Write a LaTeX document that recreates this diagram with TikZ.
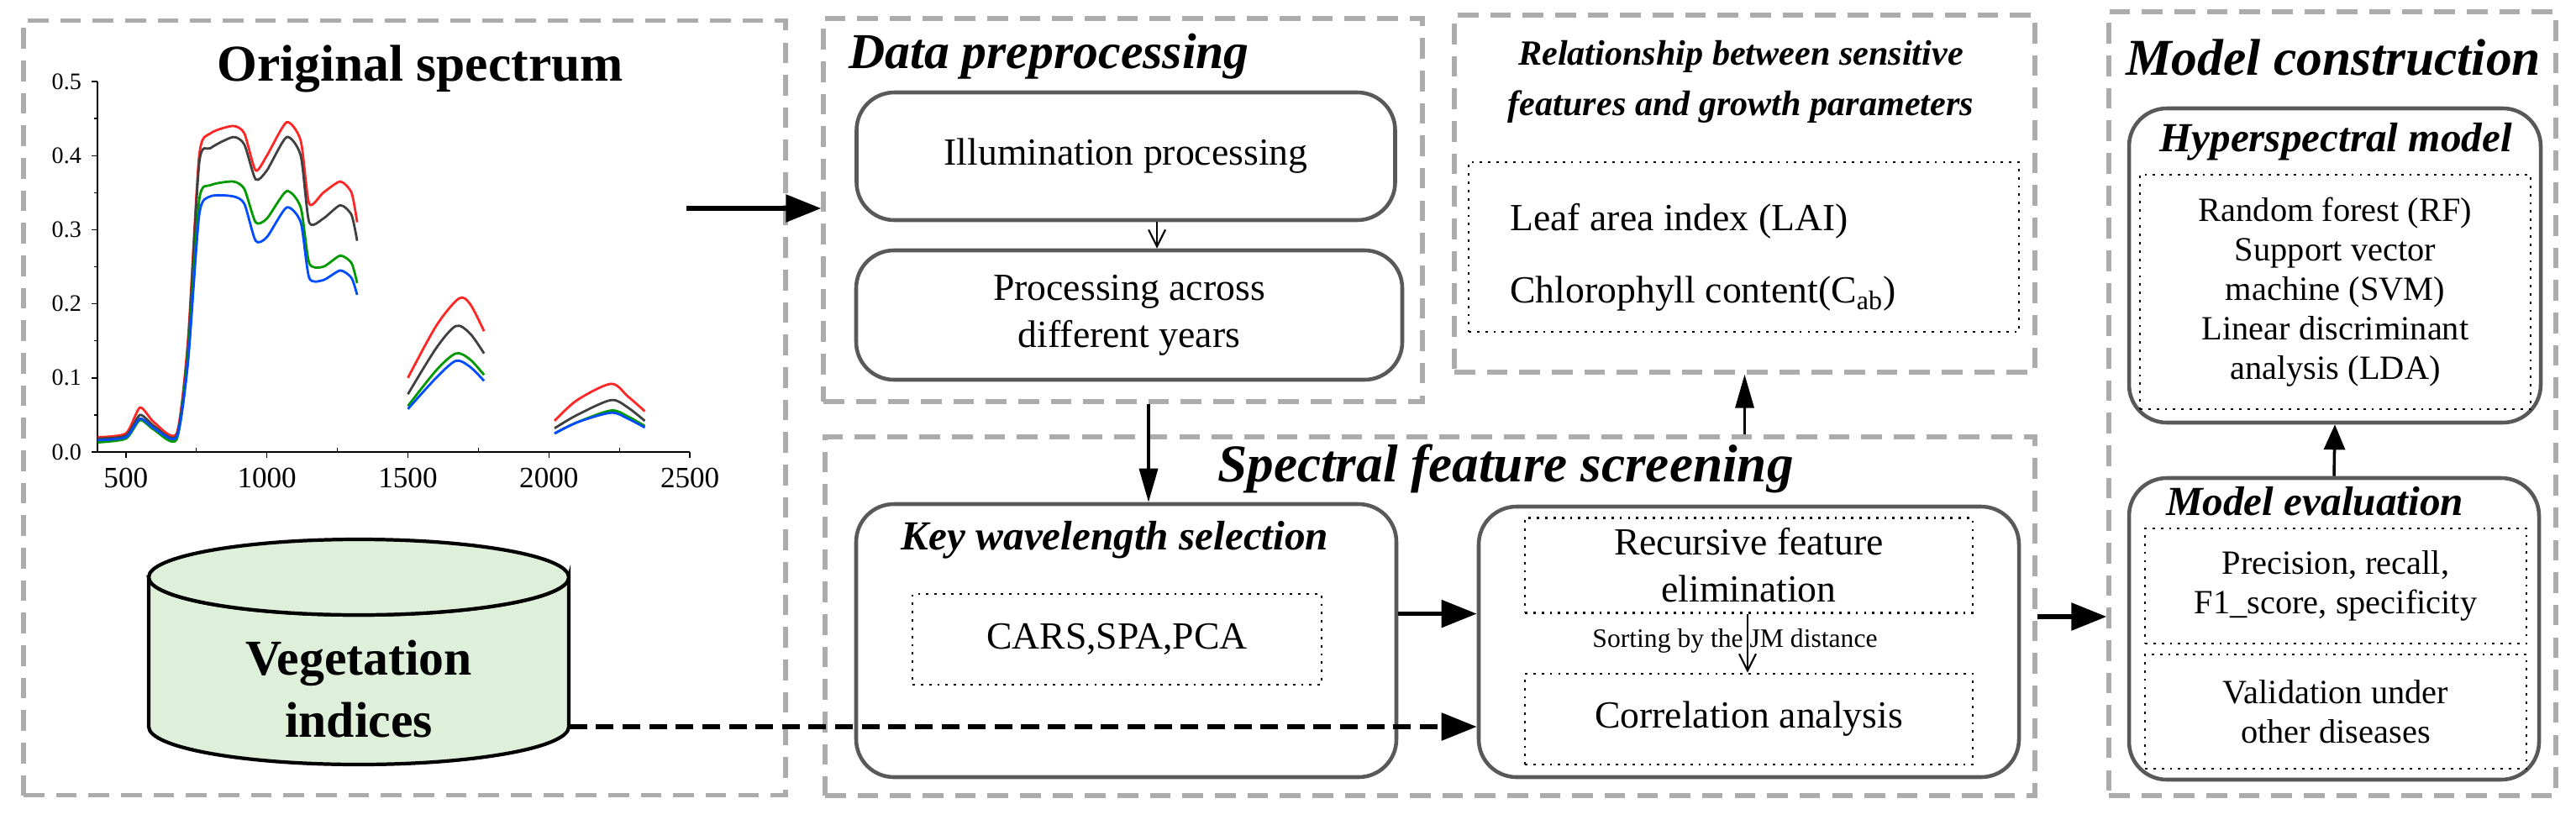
\documentclass[tikz,border=0pt]{standalone}
\usepackage{fontspec}
\setmainfont{Liberation Serif}
\usetikzlibrary{shapes.geometric,arrows.meta}

\definecolor{vegfill}{RGB}{222,239,218}

\tikzset{
  group/.style={draw=gray!65, line width=1.5pt, dash pattern=on 7pt off 4pt},
  rbox/.style={draw=black!65, line width=1.3pt, rounded corners=0.45cm},
  dbox/.style={draw, line width=0.8pt, dotted},
  body/.style={font=\fontsize{13}{16}\selectfont, align=center},
  small/.style={font=\fontsize{11.5}{13.5}\selectfont, align=center},
  head/.style={font=\fontsize{14}{17}\selectfont\bfseries\itshape, align=center},
  big/.style={font=\fontsize{17}{20}\selectfont\bfseries\itshape},
  flow/.style={-{Triangle[length=0.42cm,width=0.32cm]}, line width=1.6pt},
  thin/.style={-{Straight Barb[length=0.2cm,width=0.2cm]}, line width=0.6pt},
}

\begin{document}
\begin{tikzpicture}
  \useasboundingbox (0,0) rectangle (30.66,-9.81);

  % original spectrum
  \node[group, minimum width=9.07cm, minimum height=9.22cm] (orig) at (4.815,-4.855) {};
  \node[font=\fontsize{17.5}{20}\selectfont\bfseries] (origtitle) at (5.00,-0.82) {Original spectrum};

  \begin{scope}[shift={(-0.18,-5.38)}, x=0.00335cm, y=8.82cm]
    \draw[line width=0.6pt] (400,0.5) -- (400,0) -- (2500,0);
    \foreach \v in {0.0,0.1,0.2,0.3,0.4,0.5}
      \draw (400,\v) -- ++(-0.07cm,0) node[left, font=\fontsize{8}{9}\selectfont] {\v};
    \foreach \v in {0.05,0.15,0.25,0.35,0.45}
      \draw (400,\v) -- ++(-0.04cm,0);
    \foreach \w in {500,1000,1500,2000,2500}
      \draw (\w,0) -- ++(0,-0.07cm) node[below, font=\fontsize{10}{11}\selectfont] {\w};
    \foreach \w in {750,1250,1750,2250}
      \draw (\w,0) -- ++(0,0.05cm);

    \draw[red!85!white, line width=0.8pt] plot[smooth, tension=0.4] coordinates {(400,.02) (500,.025) (550,.06) (600,.04) (680,.025) (720,.15) (760,.40) (800,.43) (880,.44) (920,.43) (960,.38) (1000,.40) (1070,.445) (1120,.42) (1150,.335) (1200,.35) (1260,.365) (1300,.35) (1320,.31)};
    \draw[red!85!white, line width=0.8pt] plot[smooth] coordinates {(1500,.10) (1600,.17) (1680,.207) (1720,.2) (1770,.163)};
    \draw[red!85!white, line width=0.8pt] plot[smooth] coordinates {(2020,.042) (2100,.07) (2220,.092) (2280,.075) (2340,.055)};

    \draw[black!75, line width=0.8pt] plot[smooth, tension=0.4] coordinates {(400,.018) (500,.022) (550,.05) (600,.035) (680,.022) (720,.14) (760,.39) (800,.41) (880,.425) (920,.415) (960,.368) (1000,.38) (1070,.425) (1120,.4) (1150,.31) (1200,.315) (1260,.333) (1300,.32) (1320,.285)};
    \draw[black!75, line width=0.8pt] plot[smooth] coordinates {(1500,.078) (1600,.14) (1670,.17) (1720,.16) (1770,.133)};
    \draw[black!75, line width=0.8pt] plot[smooth] coordinates {(2020,.032) (2100,.05) (2220,.07) (2280,.06) (2340,.042)};

    \draw[green!60!black, line width=0.8pt] plot[smooth, tension=0.4] coordinates {(400,.013) (500,.018) (550,.043) (600,.03) (680,.017) (720,.13) (760,.34) (800,.36) (880,.365) (920,.355) (960,.31) (1000,.315) (1070,.352) (1120,.33) (1150,.255) (1200,.25) (1260,.265) (1300,.255) (1320,.228)};
    \draw[green!60!black, line width=0.8pt] plot[smooth] coordinates {(1500,.062) (1600,.11) (1670,.133) (1720,.125) (1770,.104)};
    \draw[green!60!black, line width=0.8pt] plot[smooth] coordinates {(2020,.025) (2100,.04) (2220,.056) (2280,.048) (2340,.035)};

    \draw[blue!70!cyan, line width=0.8pt] plot[smooth, tension=0.4] coordinates {(400,.016) (500,.02) (550,.045) (600,.032) (680,.02) (720,.12) (760,.32) (800,.345) (880,.345) (920,.335) (960,.285) (1000,.29) (1070,.33) (1120,.31) (1150,.235) (1200,.232) (1260,.245) (1300,.235) (1320,.212)};
    \draw[blue!70!cyan, line width=0.8pt] plot[smooth] coordinates {(1500,.058) (1600,.10) (1670,.123) (1720,.115) (1770,.096)};
    \draw[blue!70!cyan, line width=0.8pt] plot[smooth] coordinates {(2020,.025) (2100,.04) (2220,.053) (2280,.045) (2340,.033)};
  \end{scope}

  % vegetation indices drum
  \draw[line width=1.2pt, fill=vegfill] (1.77,-6.87) -- (1.77,-8.65) arc[start angle=180, end angle=360, x radius=2.5cm, y radius=0.45cm]
    -- (6.77,-6.87) arc[start angle=0, end angle=-180, x radius=2.5cm, y radius=0.45cm] -- cycle;
  \draw[line width=1.2pt, fill=vegfill] (4.27,-6.87) ellipse[x radius=2.5cm, y radius=0.45cm];
  \node[font=\fontsize{17}{21}\selectfont\bfseries, align=center, minimum width=5cm] (veg) at (4.27,-8.2) {Vegetation\\indices};
  \coordinate (specout) at (8.17,-2.48);

  % data preprocessing
  \node[group, minimum width=7.13cm, minimum height=4.56cm] (datapre) at (13.365,-2.50) {};
  \node[big, anchor=west] (datatitle) at (9.98,-0.67) {Data preprocessing};
  \node[rbox, body, minimum width=6.41cm, minimum height=1.52cm] (illum) at (13.40,-1.86) {Illumination processing};
  \node[rbox, body, minimum width=6.50cm, minimum height=1.54cm] (years) at (13.44,-3.75) {Processing across\\different years};

  % relationship
  \node[group, minimum width=6.91cm, minimum height=4.25cm] (relbox) at (20.765,-2.305) {};
  \node[head, font=\fontsize{12}{17}\selectfont\bfseries\itshape] (reltitle) at (20.72,-0.97) {Relationship between sensitive\\features and growth parameters};
  \node[dbox, minimum width=6.55cm, minimum height=2.02cm] (params) at (20.755,-2.94) {};
  \node[body, anchor=west] (lai) at (17.85,-2.63) {Leaf area index (LAI)};
  \node[body, anchor=west] (cab) at (17.85,-3.50) {Chlorophyll content(C$_{\mathrm{ab}}$)};

  % spectral feature screening
  \node[group, minimum width=14.40cm, minimum height=4.27cm] (screen) at (17.02,-7.335) {};
  \node[big, font=\fontsize{18}{21}\selectfont\bfseries\itshape] (screentitle) at (17.92,-5.58) {Spectral feature screening};
  \node[rbox, minimum width=6.43cm, minimum height=3.25cm] (keysel) at (13.405,-7.625) {};
  \node[head] (keytitle) at (13.27,-6.43) {Key wavelength selection};
  \node[dbox, body, minimum width=4.87cm, minimum height=1.08cm] (cars) at (13.295,-7.61) {CARS,SPA,PCA};
  \node[rbox, minimum width=6.43cm, minimum height=3.22cm] (select) at (20.815,-7.64) {};
  \node[dbox, body, minimum width=5.33cm, minimum height=1.10cm] (rfe) at (20.815,-6.73) {Recursive feature\\elimination};
  \node[dbox, body, minimum width=5.33cm, minimum height=1.08cm] (corr) at (20.815,-8.56) {Correlation analysis};
  \node[small, font=\fontsize{9}{11}\selectfont] (jm) at (20.65,-7.63) {Sorting by the JM distance};

  % model construction
  \node[group, minimum width=5.32cm, minimum height=9.33cm] (model) at (27.76,-4.805) {};
  \node[big, font=\fontsize{17.5}{20}\selectfont\bfseries\itshape] (modeltitle) at (27.77,-0.69) {Model construction};
  \node[rbox, minimum width=4.90cm, minimum height=3.74cm] (hyper) at (27.79,-3.16) {};
  \node[head] (hypertitle) at (27.80,-1.69) {Hyperspectral model};
  \node[dbox, body, font=\fontsize{11.5}{13.4}\selectfont, minimum width=4.65cm, minimum height=2.79cm] (algos) at (27.795,-3.475)
    {Random forest (RF)\\Support vector\\machine (SVM)\\Linear discriminant\\analysis (LDA)};
  \node[rbox, minimum width=4.88cm, minimum height=3.59cm] (eval) at (27.78,-7.485) {};
  \node[head] (evaltitle) at (27.55,-5.97) {Model evaluation};
  \node[dbox, body, font=\fontsize{11.5}{13.4}\selectfont, minimum width=4.54cm, minimum height=1.37cm] (metrics) at (27.80,-6.975) {Precision, recall,\\F1\_score, specificity};
  \node[dbox, body, font=\fontsize{11.5}{13.4}\selectfont, minimum width=4.54cm, minimum height=1.36cm] (valid) at (27.80,-8.47) {Validation under\\other diseases};

  % connectors
  \draw[flow] (specout) -- (datapre.west |- specout);
  \draw[thin] (illum.south -| 13.77,0) -- (years.north -| 13.77,0);
  \draw[-{Triangle[length=0.4cm,width=0.22cm]}, line width=1pt] (datapre.south -| 13.67,0) -- (keysel.north -| 13.67,0);
  \draw[-{Triangle[length=0.4cm,width=0.22cm]}, line width=1pt] (relbox.south |- screen.north) -- (relbox.south);
  \draw[flow] (keysel.east |- rfe.south) -- (select.west |- rfe.south);
  \draw[thin] (rfe.south -| 20.80,0) -- (corr.north -| 20.80,0);
  \draw[flow, dash pattern=on 6pt off 3pt] (veg.east |- 0,-8.65) -- (select.west |- 0,-8.65);
  \draw[flow] (screen.east |- 0,-7.34) -- (model.west |- 0,-7.34);
  \draw[-{Triangle[length=0.3cm,width=0.25cm]}, line width=1pt] (eval.north) -- (hyper.south);
\end{tikzpicture}
\end{document}
